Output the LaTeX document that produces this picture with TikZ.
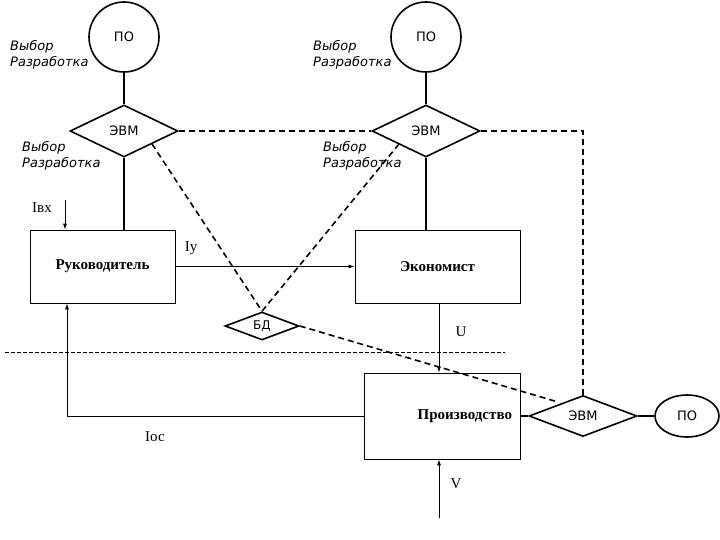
\documentclass[tikz,border=0pt]{standalone}
\usepackage{fontspec}
\setmainfont{Liberation Serif}
\newfontfamily\sans{DejaVu Sans}
\usetikzlibrary{shapes.geometric,arrows.meta}
\begin{document}
\begin{tikzpicture}[x=1pt,y=-1pt,
  po/.style={circle,draw,line width=1.6pt,minimum size=70pt,inner sep=0pt,font=\sans\fontsize{13}{13}\selectfont},
  evm/.style={diamond,draw,line width=1.6pt,aspect=2.1,minimum width=108pt,minimum height=52pt,inner sep=0pt,font=\sans\fontsize{13}{13}\selectfont},
  box/.style={rectangle,draw,line width=0.8pt,font=\bfseries\fontsize{15}{15}\selectfont},
  lbl/.style={font=\sans\itshape\fontsize{13}{16}\selectfont,align=left,anchor=north west,inner sep=0pt},
  ser/.style={font=\fontsize{15}{15}\selectfont,inner sep=0pt},
  dsh/.style={line width=1.6pt,dash pattern=on 6pt off 4pt},
  sol/.style={line width=1.6pt},
  arr/.style={line width=0.8pt,-{Latex[length=6pt,width=4pt]}}]
\useasboundingbox (0,0) rectangle (720,540);
\node[po] (po1) at (124,37) {ПО};
\node[po] (po2) at (426,37) {ПО};
\node[evm] (e1) at (124,131) {ЭВМ};
\node[evm] (e2) at (426,131) {ЭВМ};
\node[box,minimum width=145pt,minimum height=73pt] (r) at (102.5,266.5) {Руководитель};
\node[box,minimum width=165pt,minimum height=73pt] (ek) at (437.5,266.5) {Экономист};
\node[box,minimum width=156pt,minimum height=86pt,text width=140pt,align=right] (pr) at (442,416) {Производство};
\node[evm,minimum width=108pt,minimum height=41pt] (e3) at (583,416) {ЭВМ};
\node[ellipse,draw,line width=1.6pt,minimum width=64pt,minimum height=42pt,inner sep=0pt,font=\sans\fontsize{13}{13}\selectfont] (po3) at (687,416) {ПО};
\node[diamond,draw,line width=1.6pt,minimum width=74pt,minimum height=28pt,aspect=2.6,inner sep=0pt,font=\sans\fontsize{12}{12}\selectfont] (bd) at (262,326) {БД};
\draw[sol] (po1) -- (e1);
\draw[sol] (po2) -- (e2);
\draw[sol] (e1.south) -- (r.north -| e1.south);
\draw[sol] (e2.south) -- (ek.north -| e2.south);
\draw[sol] (pr.east) -- (e3.west);
\draw[sol] (e3.east) -- (po3.west);
\draw[dsh] (e1.east) -- (e2.west);
\coordinate (c1) at (583,131);
\draw[dsh] (e2.east) -- (c1) -- (e3.north);
\draw[dsh] (152,144) -- (bd.north);
\draw[dsh] (399,144) -- (bd.north);
\coordinate (c2) at (558,402);
\draw[dsh] (bd.east) -- (c2);
\coordinate (h1) at (5,352); \coordinate (h2) at (505,352);
\draw[line width=0.6pt,dash pattern=on 4pt off 2pt] (h1) -- (h2);
\draw[arr] (r.east) -- (ek.west);
\coordinate (ib) at (65,200);
\draw[arr] (ib) -- (ib |- r.north);
\node[ser] (ibl) at (42,208) {Iвх};
\node[ser] (iyl) at (191,248) {Iу};
\draw[arr] (ek.south -| 439,0) -- (pr.north -| 439,0);
\node[ser] (ul) at (461,332) {U};
\coordinate (v) at (439,518);
\draw[arr] (v) -- (v |- pr.south);
\node[ser] (vl) at (456,484) {V};
\coordinate (fb) at (67,416);
\draw[arr] (pr.west) -- (fb) -- (fb |- r.south);
\node[ser] (iol) at (155,437) {Iос};
\node[lbl] (l1) at (10,40) {Выбор\\Разработка};
\node[lbl] (l2) at (313,40) {Выбор\\Разработка};
\node[lbl] (l3) at (22,141) {Выбор\\Разработка};
\node[lbl] (l4) at (323,141) {Выбор\\Разработка};
\end{tikzpicture}
\end{document}
